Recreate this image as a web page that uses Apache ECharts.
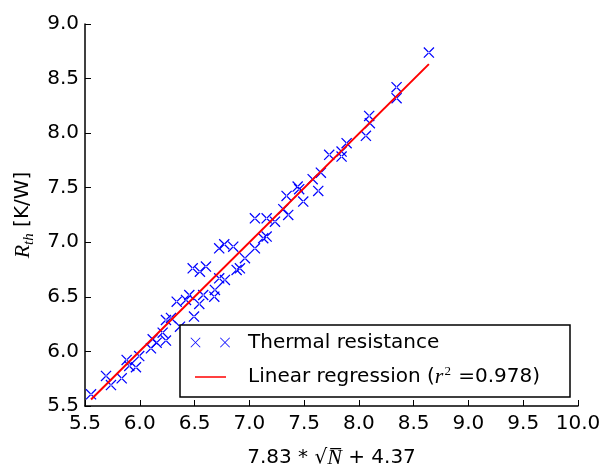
<!DOCTYPE html>
<html>
<head>
<meta charset="utf-8">
<script src="https://cdn.jsdelivr.net/npm/echarts@6/dist/echarts.min.js"></script>
<style>html,body{margin:0;padding:0;background:#fff;}#c{width:605px;height:468px;}</style>
</head>
<body>
<div id="c"></div>
<script>
// Measured data (x = 7.83*sqrt(N)+4.37, y = R_th [K/W])
const xs = [5.555,5.692,5.737,5.835,5.880,5.904,5.965,5.995,6.102,6.118,6.154,6.239,6.209,6.239,6.285,6.337,6.367,6.422,6.452,6.495,6.543,6.579,6.680,6.686,6.483,6.549,6.604,6.725,6.771,6.853,6.777,6.725,6.884,6.914,6.960,7.051,7.127,7.158,7.051,7.158,7.234,7.310,7.340,7.355,7.441,7.455,7.492,7.578,7.629,7.653,7.729,7.842,7.842,7.888,8.064,8.094,8.100,8.344,8.344,8.639];
const ys = [5.607,5.775,5.692,5.754,5.922,5.867,5.855,5.958,6.029,6.111,6.080,6.099,6.172,6.288,6.307,6.456,6.227,6.472,6.517,6.319,6.435,6.517,6.502,6.563,6.762,6.731,6.777,6.945,6.982,6.960,6.655,6.670,6.747,6.762,6.854,6.945,7.037,7.052,7.220,7.220,7.189,7.303,7.425,7.251,7.510,7.486,7.373,7.578,7.471,7.638,7.801,7.831,7.785,7.908,7.975,8.158,8.091,8.421,8.320,8.738];
// Regression line endpoints
const fitX = [5.555, 8.639];
const fitY = [5.56, 8.632];
const r2 = '0.978';
const xTicks = [5.5, 10.0, 0.5];
const yTicks = [5.5, 9.0, 0.5];

const chart = echarts.init(document.getElementById('c'), null, {renderer: 'canvas'});
const font = 'DejaVu Sans';
const axisCommon = {
  axisLine: {show: true, lineStyle: {color: '#000', width: 1.5}},
  axisTick: {show: true, inside: true, length: 6, lineStyle: {color: '#000', width: 1}},
  splitLine: {show: false},
  axisLabel: {color: '#000', fontFamily: font, fontSize: 20, showMinLabel: true, showMaxLabel: true,
    formatter: v => v.toFixed(1)}
};
const blue = '#0000ff';
// filled "x" marker outline (two thin diagonal bars)
const X_PATH = 'path://M0,0.8L0.8,0L10,9.2L9.2,10ZM10,0.8L9.2,0L0,9.2L0.8,10Z';
function legendX(cx, cy) {
  const h = 5, w = 0.55;
  return [
    {type: 'polygon', shape: {points: [[cx-h, cy-h+w],[cx-h+w, cy-h],[cx+h, cy+h-w],[cx+h-w, cy+h]]}, style: {fill: blue}, z: 11},
    {type: 'polygon', shape: {points: [[cx+h, cy-h+w],[cx+h-w, cy-h],[cx-h, cy+h-w],[cx-h+w, cy+h]]}, style: {fill: blue}, z: 11}
  ];
}
const option = {
  animation: false,
  backgroundColor: '#fff',
  grid: {left: 85, right: 27, top: 24, bottom: 62, outerBoundsMode: 'none', containLabel: false},
  xAxis: Object.assign({}, axisCommon, {
    type: 'value', min: xTicks[0], max: xTicks[1], interval: xTicks[2],
    name: '7.83 * \u221A{n|N\u0305} + 4.37', nameLocation: 'middle', nameGap: 41,
    nameTextStyle: {color: '#000', fontFamily: font, fontSize: 20,
      rich: {n: {fontFamily: 'Liberation Serif', fontStyle: 'italic', fontSize: 22, color: '#000'}}},
    axisLabel: Object.assign({}, axisCommon.axisLabel, {margin: 8})
  }),
  yAxis: Object.assign({}, axisCommon, {
    type: 'value', min: yTicks[0], max: yTicks[1], interval: yTicks[2],
    name: '{r|R}{s|th} [K/W]', nameLocation: 'middle', nameRotate: 90, nameGap: 43,
    nameTextStyle: {color: '#000', fontFamily: font, fontSize: 20,
      rich: {
        r: {fontFamily: 'Liberation Serif', fontStyle: 'italic', fontSize: 22, color: '#000', lineHeight: 26},
        s: {fontFamily: 'Liberation Serif', fontStyle: 'italic', fontSize: 15, color: '#000', verticalAlign: 'bottom', lineHeight: 18, padding: [8,0,0,0]}
      }},
    axisLabel: Object.assign({}, axisCommon.axisLabel, {margin: 6})
  }),
  series: [
    {
      type: 'scatter', name: 'Thermal resistance',
      data: xs.map((x, i) => [x, ys[i]]),
      symbol: X_PATH, symbolSize: 11,
      itemStyle: {color: blue, borderWidth: 0, opacity: 1},
      z: 2
    },
    {
      type: 'line', name: 'Linear regression',
      data: fitX.map((x, i) => [x, fitY[i]]),
      symbol: 'none', lineStyle: {color: '#ff0000', width: 2}, z: 3
    }
  ],
  graphic: [
    {type: 'rect', shape: {x: 180, y: 325, width: 390, height: 72}, style: {fill: '#fff', stroke: '#000', lineWidth: 1.5}, z: 10}
  ].concat(legendX(195.5, 342.5), legendX(225, 342.5), [
    {type: 'text', x: 248, y: 343, style: {text: 'Thermal resistance', fill: '#000', font: '20px "DejaVu Sans"', verticalAlign: 'middle'}, z: 11},
    {type: 'line', shape: {x1: 195, y1: 377, x2: 226, y2: 377}, style: {stroke: '#ff0000', lineWidth: 1.5}, z: 11},
    {type: 'text', x: 248, y: 377, style: {
      text: 'Linear regression ({r|r}{s|2} =' + r2 + ')', fill: '#000', fontFamily: font, fontSize: 20, verticalAlign: 'middle',
      rich: {
        r: {fontFamily: 'Liberation Serif', fontStyle: 'italic', fontSize: 22, fill: '#000'},
        s: {fontFamily: 'Liberation Serif', fontSize: 13, fill: '#000', verticalAlign: 'top', padding: [0,1,10,1]}
      }}, z: 11}
  ])
};
chart.setOption(option);
</script>
</body>
</html>
